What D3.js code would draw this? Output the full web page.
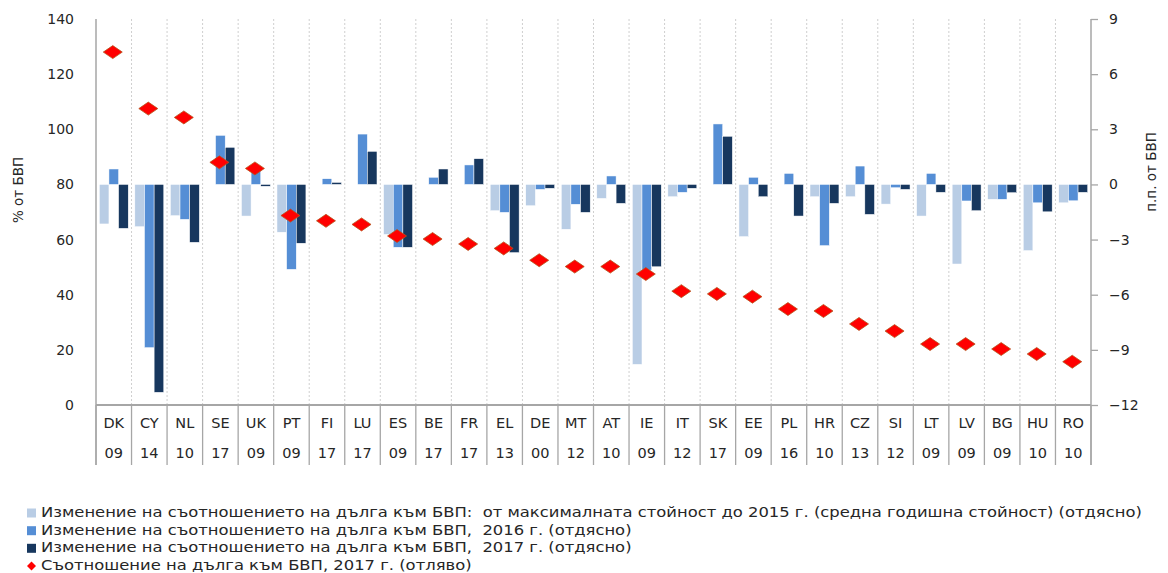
<!DOCTYPE html>
<html>
<head>
<meta charset="utf-8">
<script src="https://cdn.jsdelivr.net/npm/d3@7"></script>
<style>
  body { margin: 0; background: #fff; }
  text { font-family: "DejaVu Sans", Verdana, sans-serif; fill: #262626; }
</style>
</head>
<body>
<svg id="chart" width="1168" height="573"></svg>
<script>
// Chart data
const codes = ["DK","CY","NL","SE","UK","PT","FI","LU","ES","BE","FR","EL","DE","MT","AT","IE","IT","SK","EE","PL","HR","CZ","SI","LT","LV","BG","HU","RO"];
const years = ["09","14","10","17","09","09","17","17","09","17","17","13","00","12","10","09","12","17","09","16","10","13","12","09","09","09","10","10"];

// change in debt ratio from peak to 2015 (right axis, p.p.)
const peakTo2015 = [-2.15,-2.3,-1.7,0,-1.72,-2.6,0,0,-2.72,0,0,-1.43,-1.16,-2.44,-0.76,-9.79,-0.67,0,-2.84,0,-0.67,-0.67,-1.07,-1.72,-4.33,-0.81,-3.6,-1.0];
// change in 2016 (right axis)
const change2016 = [0.84,-8.88,-1.9,2.67,0.8,-4.62,0.31,2.74,-3.42,0.39,1.06,-1.52,-0.27,-1.08,0.46,-4.66,-0.43,3.29,0.39,0.6,-3.33,1.0,-0.18,0.6,-0.9,-0.81,-1.0,-0.89];
// change in 2017 (right axis)
const change2017 = [-2.39,-11.31,-3.15,2.02,-0.1,-3.2,0.11,1.8,-3.42,0.84,1.4,-3.71,-0.21,-1.52,-1.03,-4.48,-0.21,2.62,-0.67,-1.72,-1.03,-1.63,-0.27,-0.43,-1.43,-0.45,-1.49,-0.43];
// debt ratio 2017 (left axis, % of GDP)
const debt2017 = [128.0,107.5,104.3,88.0,85.8,68.7,66.8,65.5,61.3,60.2,58.4,56.8,52.5,50.2,50.2,47.5,41.3,40.3,39.3,34.8,34.1,29.4,26.8,22.1,22.1,20.3,18.5,15.7];

const leftTicks = [0,20,40,60,80,100,120,140];
const rightTicks = [-12,-9,-6,-3,0,3,6,9];

const seriesNames = [
  "Изменение на съотношението на дълга към БВП:  от максималната стойност до 2015 г. (средна годишна стойност) (отдясно)",
  "Изменение на съотношението на дълга към БВП,  2016 г. (отдясно)",
  "Изменение на съотношението на дълга към БВП,  2017 г. (отдясно)",
  "Съотношение на дълга към БВП, 2017 г. (отляво)"
];
const colors = ["#b9cde5", "#558ed5", "#17375e"];

const svg = d3.select("#chart");
const plotLeft = 96, plotRight = 1091, plotTop = 19, plotBottom = 405, catBottom = 465;

const x = d3.scaleBand().domain(codes).range([plotLeft, plotRight]).padding(0);
const bw = x.bandwidth();
const x1 = d3.scaleBand().domain([0, 1, 2]).range([3.3, bw - 3.3]).padding(0);

const yLeft = d3.scaleLinear().domain([0, 140]).range([plotBottom, plotTop]);
const yRight = d3.scaleLinear().domain([-12, 9]).range([plotBottom, plotTop]);

// vertical dashed gridlines between categories
svg.append("g")
  .selectAll("line")
  .data(codes.slice(1))
  .join("line")
  .attr("x1", d => x(d)).attr("x2", d => x(d))
  .attr("y1", plotTop).attr("y2", plotBottom)
  .style("stroke", "#cfcfcf")
  .style("stroke-dasharray", "2,2")
  .style("stroke-width", 1);

// separators in the category label area
const seps = codes.map(d => x(d)).concat([plotRight]);
svg.append("g")
  .selectAll("line")
  .data(seps)
  .join("line")
  .attr("x1", d => d).attr("x2", d => d)
  .attr("y1", plotBottom).attr("y2", catBottom)
  .style("stroke", "#a6a6a6")
  .style("stroke-width", 1.3);

// bars
const barSeries = [peakTo2015, change2016, change2017];
barSeries.forEach((vals, s) => {
  svg.append("g")
    .selectAll("rect")
    .data(vals.map((v, i) => ({ code: codes[i], v: v })))
    .join("rect")
    .attr("x", d => x(d.code) + x1(s))
    .attr("width", x1.bandwidth())
    .attr("y", d => yRight(Math.max(0, d.v)))
    .attr("height", d => Math.abs(yRight(d.v) - yRight(0)))
    .style("fill", colors[s])
    .style("stroke", "#fff")
    .style("stroke-width", 0.5);
});

// axis lines
svg.append("line")
  .attr("x1", plotLeft).attr("x2", plotLeft).attr("y1", plotTop).attr("y2", catBottom)
  .style("stroke", "#a6a6a6").style("stroke-width", 1.5);
svg.append("line")
  .attr("x1", plotRight).attr("x2", plotRight).attr("y1", plotTop).attr("y2", catBottom)
  .style("stroke", "#a6a6a6").style("stroke-width", 1.5);
svg.append("line")
  .attr("x1", plotLeft).attr("x2", plotRight).attr("y1", plotBottom).attr("y2", plotBottom)
  .style("stroke", "#a6a6a6").style("stroke-width", 2);

// left axis
const gLeft = svg.append("g")
  .attr("transform", `translate(${plotLeft},0)`)
  .call(d3.axisLeft(yLeft).tickValues(leftTicks).tickSize(0).tickPadding(22));
gLeft.select(".domain").remove();
gLeft.selectAll("text").style("font-size", "14px").style("font-family", "DejaVu Sans").attr("fill", "#262626");

// right axis
const gRight = svg.append("g")
  .attr("transform", `translate(${plotRight},0)`)
  .call(d3.axisRight(yRight).tickValues(rightTicks).tickSize(7).tickSizeOuter(0).tickPadding(11));
gRight.select(".domain").remove();
gRight.selectAll("line").style("stroke", "#a6a6a6").style("stroke-width", 1.3);
gRight.selectAll("text").style("font-size", "14px").style("font-family", "DejaVu Sans").attr("fill", "#262626");

// axis titles
svg.append("text")
  .attr("transform", "translate(19,190) rotate(-90)")
  .attr("text-anchor", "middle")
  .attr("dominant-baseline", "middle")
  .style("font-size", "13.5px")
  .text("% от БВП");
svg.append("text")
  .attr("transform", "translate(1152,172) rotate(-90)")
  .attr("text-anchor", "middle")
  .attr("dominant-baseline", "middle")
  .style("font-size", "13.5px")
  .text("п.п. от БВП");

// category labels
svg.append("g")
  .selectAll("text")
  .data(codes)
  .join("text")
  .attr("x", d => x(d) + bw / 2)
  .attr("y", 424)
  .attr("text-anchor", "middle")
  .attr("dominant-baseline", "middle")
  .style("font-size", "14.5px")
  .text(d => d);
svg.append("g")
  .selectAll("text")
  .data(years)
  .join("text")
  .attr("x", (d, i) => x(codes[i]) + bw / 2)
  .attr("y", 454)
  .attr("text-anchor", "middle")
  .attr("dominant-baseline", "middle")
  .style("font-size", "14.5px")
  .text(d => d);

// diamonds (left axis)
const diamond = "M-9.5,0L0,-6.5L9.5,0L0,6.5Z";
svg.append("g")
  .selectAll("path")
  .data(debt2017.map((v, i) => ({ code: codes[i], v: v })))
  .join("path")
  .attr("d", diamond)
  .attr("transform", d => `translate(${x(d.code) + bw / 2 - 1},${yLeft(d.v)})`)
  .style("fill", "#ff0000")
  .style("stroke", "#b5541c")
  .style("stroke-width", 0.8);

// legend
const legend = svg.append("g").attr("class", "legend");
const legY = [513, 530.7, 548.3, 566];
const legTexts = [];
seriesNames.forEach((name, i) => {
  const g = legend.append("g").attr("transform", `translate(0,${legY[i]})`);
  if (i < 3) {
    g.append("rect").attr("x", 27).attr("y", -4.5).attr("width", 9).attr("height", 9).style("fill", colors[i]);
  } else {
    g.append("path").attr("d", "M-4.5,0L0,-4.5L4.5,0L0,4.5Z")
      .attr("transform", "translate(31.5,0)")
      .style("fill", "#ff0000");
  }
  legTexts.push(g.append("text")
    .attr("x", 0)
    .attr("y", 0)
    .attr("dominant-baseline", "middle")
    .attr("xml:space", "preserve")
    .style("font-size", "13.5px")
    .text(name));
});

// the reference legend is stretched wide; scale text horizontally to match
const firstW = legTexts[0].node().getComputedTextLength();
const sx = 1102 / firstW;
legTexts.forEach(t => t.attr("transform", `translate(41,0) scale(${sx},1)`));
</script>
</body>
</html>
